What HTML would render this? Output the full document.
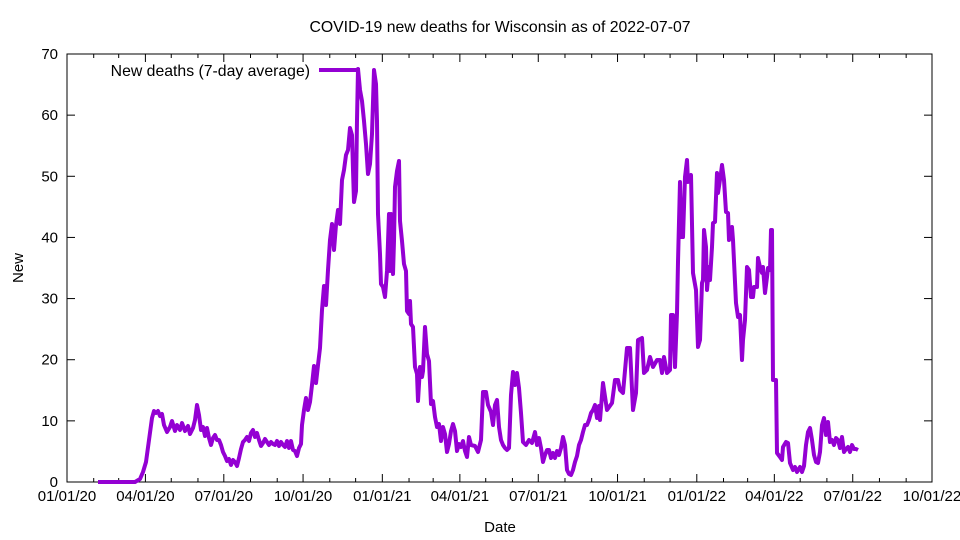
<!DOCTYPE html>
<html><head><meta charset="utf-8"><style>
body{margin:0;background:#fff}
svg{display:block;font-family:"Liberation Sans",sans-serif}
</style></head><body>
<svg id="s" width="960" height="540" xmlns="http://www.w3.org/2000/svg">
<rect x="0" y="0" width="960" height="540" fill="#fff"/>
<text x="500" y="32" font-size="15.8" text-anchor="middle">COVID-19 new deaths for Wisconsin as of 2022-07-07</text>
<text x="500" y="532" font-size="15" text-anchor="middle">Date</text>
<text x="23" y="268" font-size="15" text-anchor="middle" transform="rotate(-90 23 268)">New</text>
<g id="ax" stroke="#000" stroke-width="1"></g>
<g id="lab" font-size="15"></g>
<text x="310" y="76" font-size="15.8" text-anchor="end">New deaths (7-day average)</text>
<line x1="319" y1="70" x2="360" y2="70" stroke="#9400d3" stroke-width="4"/>
<polyline fill="none" stroke="#9400d3" stroke-width="4" stroke-linejoin="round" points="
98,482 135,482 140,479 143,472 146,462 149,440 152,418 154,411 156,413 158,411 160,416 162,414 164,425 167,432 170,427 172,421 175,431 177,425 180,430 182,423 185,431 188,426 190,434 193,428 195,420 197,405 199,415 201,430 203,427 205,436 207,428 209,438 211,445 213,438 215,435 217,440 219,440 221,445 223,452 225,456 227,461 229,459 231,465 233,460 235,462 237,466 239,458 241,449 243,442 245,440 247,437 249,441 251,433 253,430 255,437 257,433 259,440 261,446 263,443 265,439 267,442 269,445 271,442 273,444 275,445 277,441 279,446 281,442 283,445 285,447 287,441 289,448 291,441 293,450 295,451 297,456 299,448 301,444 302,425 304,410 306,398 308,410 310,402 312,385 314,366 316,383 318,365 320,348 322,310 324,286 326,305 328,270 330,240 332,224 334,250 336,225 338,210 340,224 342,180 344,170 346,155 348,150 350,128 352,135 353,170 354,202 356,191 357,120 358,69 360,90 362,101 364,121 366,144 368,174 370,164 372,134 374,70 376,84 377,121 378,214 380,254 381,284 383,287 385,297 387,271 389,214 390,271 391,214 393,274 394,241 395,187 397,171 399,161 400,221 402,241 404,264 406,271 407,311 409,314 410,301 411,324 413,327 415,367 417,374 418,401 420,367 422,377 423,371 425,327 427,354 429,361 431,404 433,401 435,417 437,427 439,424 441,441 443,427 445,434 447,452 449,444 451,431 453,424 455,431 457,451 459,444 461,447 463,441 465,451 467,457 469,437 471,445 475,446 478,452 481,440 483,392 486,392 488,405 491,412 493,425 495,405 497,400 499,427 501,440 503,445 505,448 507,450 509,448 511,395 513,372 515,385 517,373 519,388 521,413 523,442 526,445 529,440 532,443 535,432 537,445 539,438 541,448 543,462 545,455 547,450 549,450 551,458 553,453 555,458 557,451 559,455 561,448 563,437 565,445 567,470 569,474 571,475 573,470 575,462 577,456 579,445 581,440 583,432 585,425 587,425 589,420 591,413 593,410 595,405 597,418 599,406 600,420 603,383 607,410 612,403 615,380 618,380 620,390 623,393 627,348 630,348 633,410 636,393 638,340 642,338 644,373 647,370 650,357 653,367 657,360 660,360 662,373 664,357 667,373 670,370 671,315 673,315 675,367 677,313 678,262 680,182 681,237 683,237 685,177 687,160 688,182 691,175 693,273 696,290 698,347 700,340 702,283 703,280 704,230 706,247 707,290 709,267 710,280 712,247 713,223 715,222 717,173 718,193 721,173 722,165 724,180 726,212 728,213 729,240 732,227 733,240 736,303 738,317 740,315 742,360 743,340 745,320 747,267 749,270 751,297 753,297 754,287 757,287 758,258 760,267 762,273 763,267 765,293 767,277 768,268 770,270 771,230 772,230 773,380 776,380 777,453 780,457 782,460 783,447 786,442 788,443 790,463 793,470 795,467 797,472 800,467 802,472 804,466 806,445 808,432 810,428 812,440 814,455 816,462 818,463 820,452 822,425 824,418 826,435 828,422 830,442 832,440 834,445 836,438 838,440 840,448 842,437 844,452 846,449 848,447 850,452 852,445 854,449 856,449 858,450"/>
</svg>
<script>
var L=67,R=932,T=54,B=482,ax=document.getElementById('ax'),lab=document.getElementById('lab'),NS='http://www.w3.org/2000/svg';
function ln(a,b,c,d){var e=document.createElementNS(NS,'line');e.setAttribute('x1',a);e.setAttribute('y1',b);e.setAttribute('x2',c);e.setAttribute('y2',d);ax.appendChild(e);}
function tx(x,y,s,an){var e=document.createElementNS(NS,'text');e.setAttribute('x',x);e.setAttribute('y',y);e.setAttribute('text-anchor',an);e.textContent=s;lab.appendChild(e);}
var r=document.createElementNS(NS,'rect');r.setAttribute('x',L);r.setAttribute('y',T);r.setAttribute('width',R-L);r.setAttribute('height',B-T);r.setAttribute('fill','none');ax.appendChild(r);
for(var v=0;v<=70;v+=10){var y=B-v*(B-T)/70;if(v>0&&v<70){ln(L,y,L+8,y);ln(R,y,R-8,y);}tx(58,y+5,''+v,'end');}
var t0=Date.UTC(2020,0,1),t1=Date.UTC(2022,9,1),k=(R-L)/((t1-t0)/864e5);
for(var m=0;m<=33;m++){var d=(Date.UTC(2020,m,1)-t0)/864e5,x=L+d*k,maj=m%3==0,h=maj?8:4;
 if(m>0&&m<33){ln(x,B,x,B-h);ln(x,T,x,T+h);}
 if(maj){var dt=new Date(Date.UTC(2020,m,1));var s=('0'+(dt.getUTCMonth()+1)).slice(-2)+'/01/'+(''+dt.getUTCFullYear()).slice(2);tx(x,B+19,s,'middle');}}
</script>
</body></html>
